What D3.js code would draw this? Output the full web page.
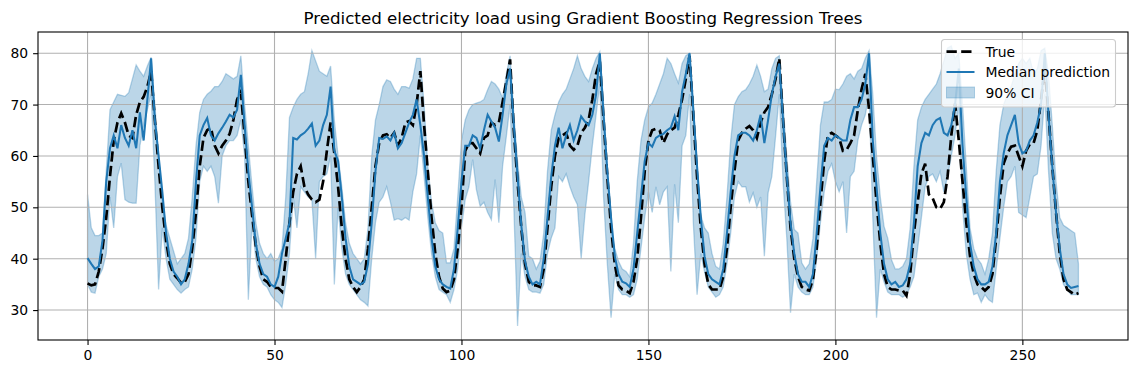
<!DOCTYPE html>
<html lang="en">
<head>
<meta charset="UTF-8">
<script src="https://d3js.org/d3.v7.min.js"></script>
<title>Predicted electricity load</title>
<style>
  body { margin: 0; background: #fff; }
  svg { display: block; font-family: "DejaVu Sans", sans-serif; }
</style>
</head>
<body>
<script>
// hourly values, one row of numbers per day (last row has 26 hours)
var trueLoad = [
  35.2,34.8,35,37.5,42,48,56,63,66.5,68.3,66.5,64,63.5,68,70.5,71.5,73.5,76.5,67,58,50,43.5,39,37,
  36.2,35.3,35.5,37,42,49,58,63.5,65,65.5,62,60.5,62,63,64.3,67,71,72.5,64,55,48.5,42.5,38.5,36,
  35.5,34.5,34.3,34.3,33.6,40,47,53,56.5,58,54,52.5,51.5,51,51.5,55,61,66.5,60.5,54,46,40,36,34.5,
  33.5,34.5,36,42,50,58,62.5,64,64.2,63.5,64.5,62,63.5,66.5,66.8,66,70,76.5,66,57,48,41,36.5,34.2,
  33.5,33.8,36,42,50,61,62.5,62.5,61.5,60.5,63.5,64,66.5,66,66.5,70.5,74.5,78.8,65,55,46,39,35.5,34.8,
  34.8,34.5,38,46,54,60,63.5,64,64.5,62,61.2,62,64.5,65.5,67,71,76,78.5,67,56,46,39,34.8,34,
  33.8,33.3,35.5,40,48,57,63,65,65.3,65,62.5,64.2,65,65.5,68,71,75,79.5,68,56,46,39,35,34,
  34,34,36.5,42,50,57,63,64.5,65.3,65.8,65,63.5,66.5,68.5,69.5,72,75,79,67,56,46,40,36.5,34.5,
  34,33.8,36,42,51,59,64,64.5,64,63.5,61,61.2,62.5,64,69,73,76,69,60,51,43,37,34.5,34,
  34,33.8,33.8,32.8,37,45,51,56.5,58.5,52.5,51.8,50,49.7,51,56,64,70.2,63,55,47,40.5,37,35,34.5,
  33.8,34.5,37,44,52,58.5,60.5,61.8,62,60,58,61,62.3,62.5,65,71,77,68,58,49,41,36,34,33.5,33,33.3
];
var medianPred = [
  40.1,39,38,38.5,43.5,55,61.5,64,61.5,66,63.5,62,65,61.5,68.5,63,71,79,67,60,53,45,40,37.5,
  36.5,35,36,39,43.5,55,64,66,67.4,64,63,64.4,65.5,66.7,68,67.5,69,75.8,66,57,50,43,39,37,
  36.5,35,34.5,36.5,41,44,47,63.5,63.2,64,64.5,65.3,66.3,62,63,66,68,73.5,61,59,52,44,38.5,36,
  35.5,35,35.5,39,47,57,63.5,63.3,63.8,63,64.5,61.5,62.5,64.5,66.5,68,71,66,60,52,44,38.5,36,35,
  34.5,34.2,38,46,55,62,62,64,63.5,61.5,65,68,66.7,65.5,62.8,68,74,77,66,56,46.5,39.5,36.5,35,
  35.5,35,40,48,56,62,65.5,61.5,64,66,63,65,67.7,66.7,66,68,72,80,68,57,48,40.5,37,35.5,
  35.2,34.5,38,45,52,59,62.5,61.8,63.5,64,64.3,65,65.5,67.7,65,72.5,76,80,69,58,48,40.5,37,36,
  35.5,35,38,45,53,60,64,64.5,64.5,64,63,65,68,62.5,67,72,75.5,78,67,56,47,41,37,35.5,
  35.5,34.5,37,45,54,62,63.5,63,64,63.5,63,63,67,69.5,69.5,71,74,80,63,54,45,39,36,35,
  35.5,34.5,34.8,36,39,47,58,62.5,64.5,64,66,67,67.4,64.5,64,66,70,77,62,52,43,38.5,36,35,
  35,35.5,38.5,45,55,60.5,64,66,68,62.5,60.5,61,63,64,66.5,70,80,68,58,49,42,37,35,34.3,34.5,34.7
];
var lowerCI = [
  35,33.5,33.3,36.5,38,41,52,46,56,58.6,51.5,51,50.8,50.8,62,66,69,72,55,34,46,40,36,35,
  34,33.3,34,34.5,38,44,55,58,57,58,56,50.8,60,62,63,63,64,67,60,32,47,40,36.5,35,
  34.5,33,32,31.5,30.5,35,41,52,46,54,53,52,51.5,40,55,56,56.5,60,35,50,42,37,35,34,
  33,32,31.5,30.8,40,47,51,52,54,51,47.5,47.8,47.5,48,47.5,53,56.5,64,56,48,41,36.5,34,33.5,
  33,31.5,34,38,46,51.5,54,59.3,53.4,50.2,51,49,47.6,55.4,47,58,63.8,70,50,26.9,41,36.5,34,33.5,
  33.5,33.3,35,41,44,46,56,55,56.5,54,52,50.5,40,48.5,55,62,68,74,52,39,28.5,37,34,33,
  33,32.5,33,36,42,48,53,49,54,50.5,53,54,37.5,54.5,47,62,64,72,47,33,41,37.5,34.5,33.5,
  32.5,33,34.5,39,45,52,55,54,54,51,52.8,50,52,40.5,52.8,56,63.8,72,55,44,29.5,37,34.5,33.5,
  33,33,34.5,40,47,53,57,58.5,55,53,55,45,56,57,63,66,68,72,48,28.5,38,35.5,33.5,33,
  33,33,32.5,33,34.5,36.5,42,48,54,56,56.5,55,57,53,56,60,64,70,50,41,36,33,33.3,31.5,
  33,32,31.5,38,44,50,55,56,58,49,48.5,48,52,56,56.5,62,72,57,45,40,38,35,34,33,33,33
];
var upperCI = [
  52.5,46,44.5,44.5,45,57,69,70.5,72,71.8,71.6,72.3,75,77.7,76.5,75.5,77.5,79.2,70,60,51,46.5,44,41.5,
  39,40,41,44,52,62,68.5,71,72,72.6,73.5,73.5,74.5,76,75.5,75,75.5,79.5,70,62,54,47,43,41,
  40,41,39.5,40,42,52,67.5,69.5,71,72,72.5,76,80.5,78.5,76.5,76,75.5,77.5,67,60,54,47,43,41,
  40,39,40,46,60,67,70,73.5,74.8,74.5,73,72,73.5,73.5,73.2,75,79,79,70,58,51,47,45.5,45,
  39.2,39.2,42,52,63,67,69,70,70.3,70.5,71,72.9,74.5,74,73,71.3,76,79.5,68,59,52,49,40.5,40,
  38,39.5,45,57,65,68,70.5,72,73,75,77,79.5,77,75.5,74.5,77,79,80.3,70,58,46,42,39.5,38,
  37.5,36.5,43,55,63,67,69.5,70.3,72,74,76,79,78,76,74.2,78,79.5,80,70,58,48.5,46,45,41,
  38.5,38,43,52,63,70,71.5,72.5,72.9,74,75.5,77.7,75.5,72.5,73,77,79,79.5,70,60,51,45.7,45,39.2,
  38,39,44,55,66,70.5,70.5,71,73,72.9,74,75.5,76,75,76.5,77,79,80.5,72,60,52,46.3,44,39.8,
  38,38,38.5,40,46,58,67,69.5,71,72,73,74,76,78.5,81,81.4,79,80,70,58,46,42,40,39,
  37,40,45,57,66,70,72,73.5,76,78,79,78,79,76,77,80.5,81,76,66,55,48,46.5,46,45.5,45,39
];
var xTicks = [0, 50, 100, 150, 200, 250];
var yTicks = [30, 40, 50, 60, 70, 80];
var titleText = "Predicted electricity load using Gradient Boosting Regression Trees";
var legendLabels = ["True", "Median prediction", "90% CI"];

var width = 1132, height = 374;
var margin = {top: 32, right: 4, bottom: 34, left: 38};
var blue = "#1f77b4";
var hours = d3.range(trueLoad.length);

// matplotlib style 5% padding around the data
function padded(lo, hi) {
  var p = (hi - lo) * 0.05;
  return [lo - p, hi + p];
}

var x = d3.scaleLinear()
  .domain(padded(0, hours.length - 1))
  .range([margin.left, width - margin.right]);
var yMin = d3.min([d3.min(lowerCI), d3.min(trueLoad), d3.min(medianPred)]);
var yMax = d3.max([d3.max(upperCI), d3.max(trueLoad), d3.max(medianPred)]);
var y = d3.scaleLinear()
  .domain(padded(yMin, yMax))
  .range([height - margin.bottom, margin.top]);

var svg = d3.select("body").append("svg")
  .attr("width", width)
  .attr("height", height);

svg.append("clipPath").attr("id", "box")
  .append("rect")
  .attr("x", margin.left).attr("y", margin.top)
  .attr("width", width - margin.left - margin.right)
  .attr("height", height - margin.top - margin.bottom);

var band = d3.area()
  .x(function (d) { return x(d); })
  .y0(function (d) { return y(lowerCI[d]); })
  .y1(function (d) { return y(upperCI[d]); });

svg.append("path")
  .datum(hours)
  .attr("clip-path", "url(#box)")
  .attr("d", band)
  .attr("fill", blue)
  .attr("fill-opacity", 0.3)
  .attr("stroke", blue)
  .attr("stroke-opacity", 0.3)
  .attr("stroke-width", 1.3);

// grid sits above the band but under the lines
var grid = svg.append("g").attr("stroke", "#b0b0b0").attr("stroke-width", 1.1);
grid.selectAll("line.gx").data(xTicks).enter().append("line")
  .attr("x1", function (d) { return x(d); }).attr("x2", function (d) { return x(d); })
  .attr("y1", margin.top).attr("y2", height - margin.bottom);
grid.selectAll("line.gy").data(yTicks).enter().append("line")
  .attr("y1", function (d) { return y(d); }).attr("y2", function (d) { return y(d); })
  .attr("x1", margin.left).attr("x2", width - margin.right);

var lineOf = function (arr) {
  return d3.line()
    .x(function (d) { return x(d); })
    .y(function (d) { return y(arr[d]); });
};

svg.append("path")
  .datum(hours)
  .attr("d", lineOf(trueLoad))
  .attr("fill", "none")
  .attr("stroke", "#000")
  .attr("stroke-width", 2.7)
  .attr("stroke-dasharray", "10.3,4.4");

svg.append("path")
  .datum(hours)
  .attr("d", lineOf(medianPred))
  .attr("fill", "none")
  .attr("stroke", blue)
  .attr("stroke-width", 2.05);

// axes
var xAxis = svg.append("g")
  .attr("transform", "translate(0," + (height - margin.bottom) + ")")
  .call(d3.axisBottom(x).tickValues(xTicks).tickSize(4.9).tickPadding(4.9).tickSizeOuter(0));
var yAxis = svg.append("g")
  .attr("transform", "translate(" + margin.left + ",0)")
  .call(d3.axisLeft(y).tickValues(yTicks).tickSize(4.9).tickPadding(4.9).tickSizeOuter(0));
[xAxis, yAxis].forEach(function (a) {
  a.select(".domain").remove();
  a.selectAll("text").attr("font-size", "13.9px").attr("font-family", "DejaVu Sans").attr("fill", "#000");
  a.selectAll("line").attr("stroke", "#000").attr("stroke-width", 1.1);
});

svg.append("rect")
  .attr("x", margin.left).attr("y", margin.top)
  .attr("width", width - margin.left - margin.right)
  .attr("height", height - margin.top - margin.bottom)
  .attr("fill", "none")
  .attr("stroke", "#000")
  .attr("stroke-width", 1.1);

svg.append("text")
  .attr("x", (margin.left + width - margin.right) / 2)
  .attr("y", 24)
  .attr("text-anchor", "middle")
  .attr("font-size", "16.7px")
  .text(titleText);

// legend
var lg = svg.append("g").attr("transform", "translate(941.5,39.5)");
lg.append("rect")
  .attr("width", 174).attr("height", 67.5).attr("rx", 3)
  .attr("fill", "#fff").attr("fill-opacity", 0.8)
  .attr("stroke", "#cccccc").attr("stroke-width", 1.1);
var rowY = [12.2, 32.5, 53];
lg.append("line").attr("x1", 5).attr("x2", 33).attr("y1", rowY[0]).attr("y2", rowY[0])
  .attr("stroke", "#000").attr("stroke-width", 2.7).attr("stroke-dasharray", "10.3,4.4");
lg.append("line").attr("x1", 5).attr("x2", 33).attr("y1", rowY[1]).attr("y2", rowY[1])
  .attr("stroke", blue).attr("stroke-width", 2.05);
lg.append("rect").attr("x", 5).attr("y", rowY[2] - 5.5).attr("width", 28).attr("height", 11)
  .attr("fill", blue).attr("fill-opacity", 0.3)
  .attr("stroke", blue).attr("stroke-opacity", 0.3);
lg.selectAll("text.lab").data(legendLabels).enter().append("text")
  .attr("x", 44)
  .attr("y", function (d, i) { return rowY[i]; })
  .attr("dy", "0.36em")
  .attr("font-size", "13.9px")
  .text(function (d) { return d; });
</script>
</body>
</html>
